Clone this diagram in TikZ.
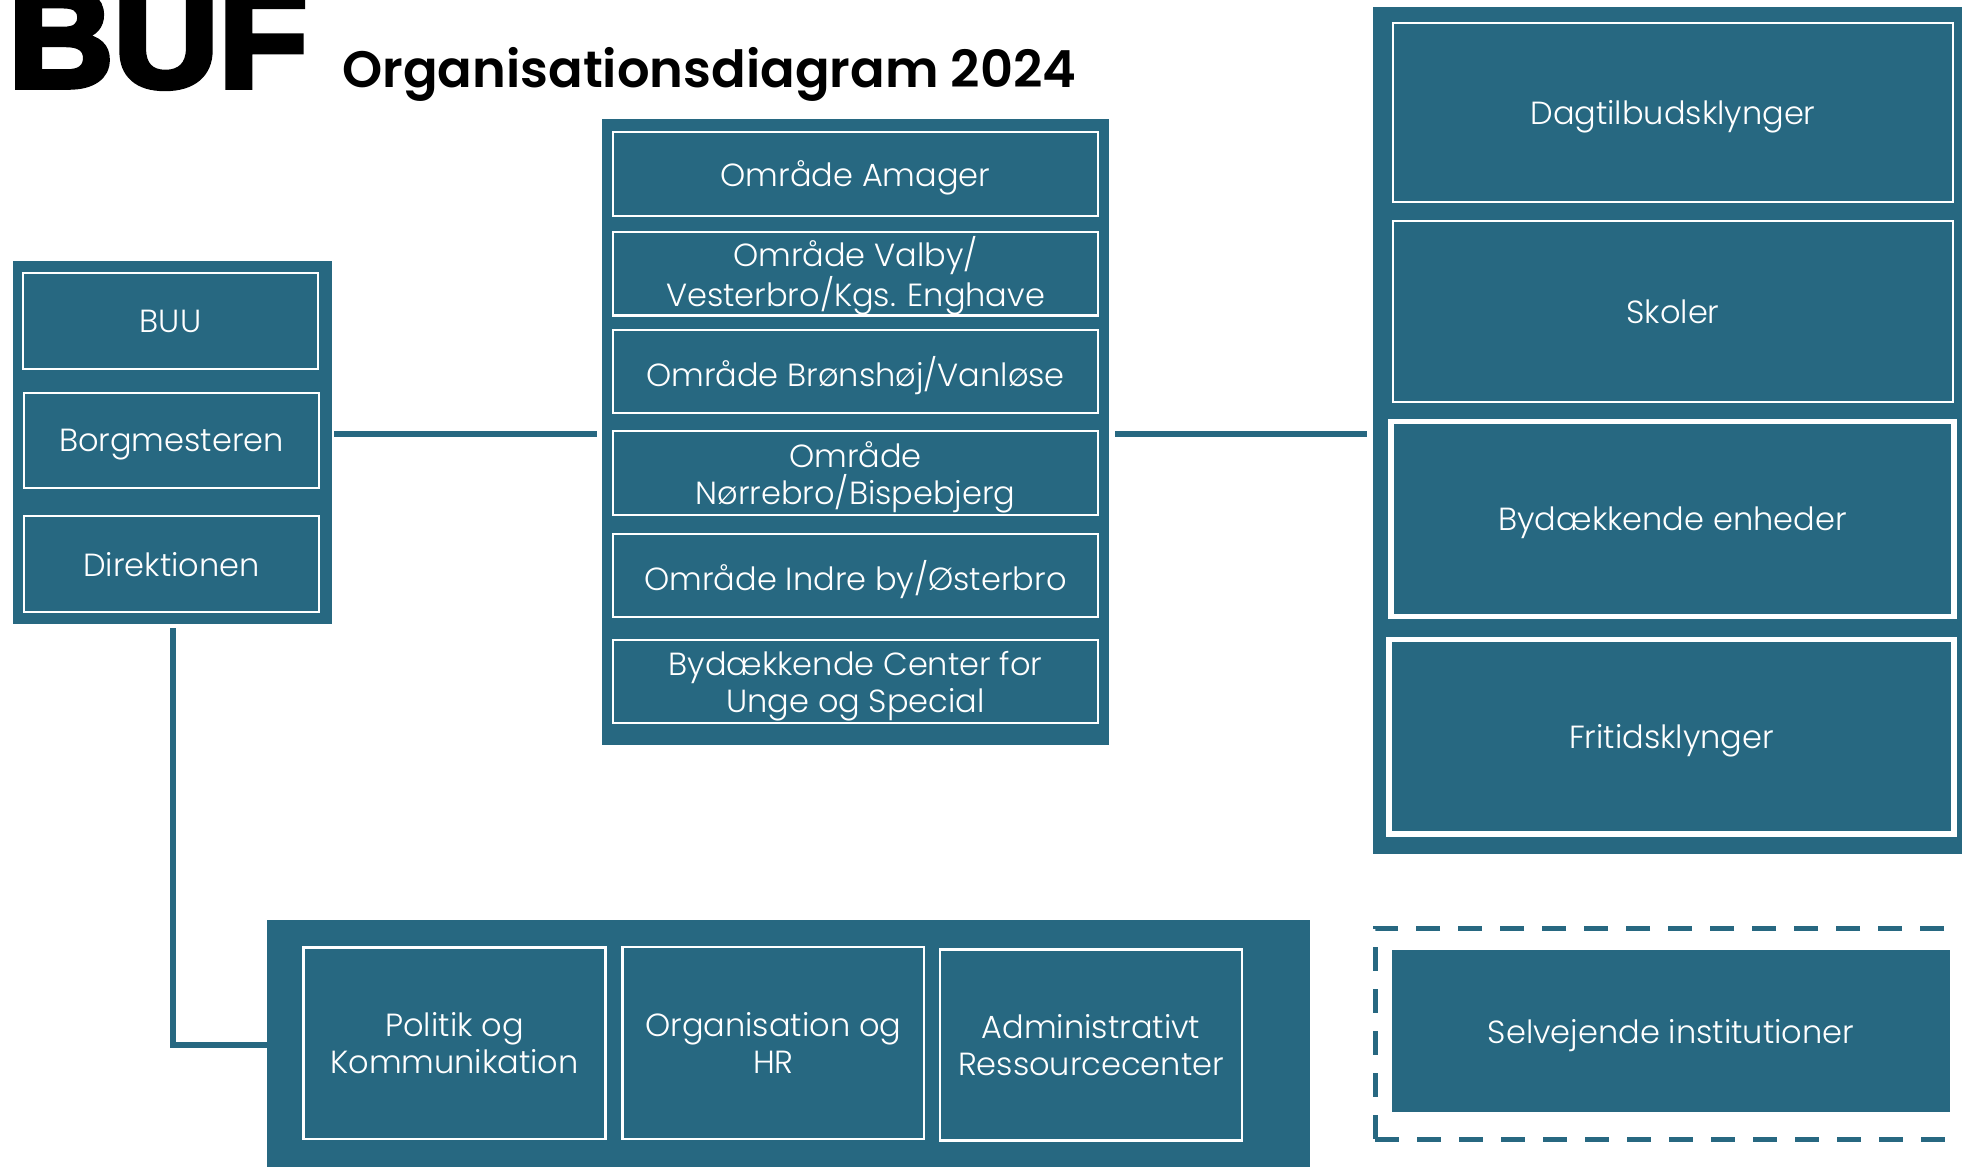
\documentclass[tikz,border=0pt]{standalone}
\usepackage{fontspec}
\usetikzlibrary{fit}
\setmainfont{Poppins}[UprightFont={* Light}]
\newfontfamily\titlefont{Poppins}[UprightFont={* SemiBold}]
\newfontfamily\buffont{Liberation Sans}[BoldFeatures={FakeBold=4}]
\definecolor{buf}{RGB}{39,104,129}
\begin{document}
\begin{tikzpicture}[x=0.5pt,y=-0.5pt,
  outerbox/.style={fill=buf, draw=none, inner sep=0pt, outer sep=0pt},
  unit/.style={fill=buf, draw=white, line width=1.3pt, inner sep=0pt, outer sep=0pt},
  thickunit/.style={unit, line width=2.8pt},
  plainunit/.style={unit, draw=none},
  txt/.style={text=white, align=center, inner sep=0pt, text depth=0pt, font=\fontsize{16}{18.4}\selectfont},
  dashbox/.style={draw=buf, line width=2.5pt, dash pattern=on 12pt off 9pt, inner sep=0pt, outer sep=0pt},
  link/.style={draw=buf, line width=3pt},
]
\useasboundingbox (0,0) rectangle (1962,1166);
\clip (0,0) rectangle (1962,1166);

% title
\node[anchor=base west, inner sep=0pt, font=\buffont\bfseries\fontsize{70}{70}\selectfont] (buf) at (8,87) {\scalebox{1.04}[1]{BUF}};
\node[anchor=base west, inner sep=0pt, font=\titlefont\fontsize{26}{30}\selectfont] (title) at (342,88) {\resizebox{367pt}{!}{Organisationsdiagram 2024}};

% left group
\node[outerbox, fit={(13,261) (332,624)}] (L) {};
\node[unit, fit={(23,273) (318,369)}] (buu) {};
\node[unit, fit={(24,393) (319,488)}] (borg) {};
\node[unit, fit={(24,516) (319,612)}] (dir) {};
\node[txt] (buuT) at (buu) {BUU};
\node[txt] (borgT) at (borg) {Borgmesteren};
\node[txt] (dirT) at (dir) {Direktionen};

% middle group
\node[outerbox, fit={(602,119) (1109,745)}] (M) {};
\node[unit, fit={(613,132) (1098,216)}] (amager) {};
\node[unit, fit={(613,232) (1098,315.5)}] (valby) {};
\node[unit, fit={(613,330) (1098,413)}] (bron) {};
\node[unit, fit={(613,431) (1098,515)}] (norre) {};
\node[unit, fit={(613,534) (1098,617)}] (indre) {};
\node[unit, fit={(613,640) (1098,723)}] (bcus) {};
\node[txt] (amagerT) at (amager) {Område Amager};
\node[txt] (valbyT) at ([yshift=1pt]valby.center) {Område Valby/\\Vesterbro/Kgs. Enghave};
\node[txt] (bronT) at (bron) {Område Brønshøj/Vanløse};
\node[txt] (norreT) at (norre) {Område\\Nørrebro/Bispebjerg};
\node[txt] (indreT) at (indre) {Område Indre by/Østerbro};
\node[txt] (bcusT) at (bcus) {Bydækkende Center for\\Unge og Special};

% right group
\node[outerbox, fit={(1373,7) (1990,854)}] (R) {};
\node[unit, fit={(1393,23) (1953,202)}] (dag) {};
\node[unit, fit={(1393,221) (1953,402)}] (skoler) {};
\node[thickunit, fit={(1391,421.5) (1954,616.5)}] (byd) {};
\node[thickunit, fit={(1389,639.5) (1954,834)}] (frit) {};
\node[txt] (dagT) at (dag) {Dagtilbudsklynger};
\node[txt] (skolerT) at (skoler) {Skoler};
\node[txt] (bydT) at (byd) {Bydækkende enheder};
\node[txt] (fritT) at (frit) {Fritidsklynger};

% self-owned
\node[dashbox, fit={(1375,928) (1995,1139)}] (D) {};
\node[plainunit, fit={(1392,950) (1950,1112)}] (selv) {};
\node[txt] (selvT) at (selv) {Selvejende institutioner};

% bottom group
\node[outerbox, fit={(267,920) (1310,1190)}] (B) {};
\node[unit, fit={(303.5,947.5) (605.5,1139)}] (pol) {};
\node[unit, fit={(622.5,947) (924,1139)}] (org) {};
\node[unit, fit={(940,949.5) (1242,1140.5)}] (adm) {};
\node[txt] (polT) at (pol) {Politik og\\Kommunikation};
\node[txt] (orgT) at (org) {Organisation og\\HR};
\node[txt] (admT) at (adm) {Administrativt\\Ressourcecenter};

% connectors
\coordinate (c1) at (0,434);
\coordinate (c2) at (0,1045);
\draw[link] ([xshift=1pt]L.east |- c1) -- ([xshift=-2.5pt]M.west |- c1);
\draw[link] ([xshift=3pt]M.east |- c1) -- ([xshift=-3pt]R.west |- c1);
\draw[link] ([yshift=-2pt]L.south) |- (B.west |- c2);
\end{tikzpicture}
\end{document}
